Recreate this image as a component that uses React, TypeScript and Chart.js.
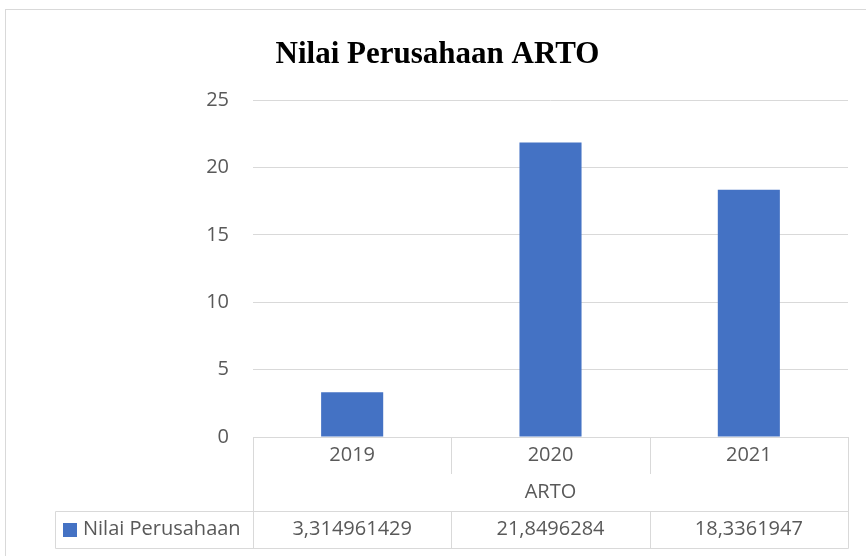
import React, { useEffect, useRef } from "react";
import { Chart, registerables } from "chart.js";

Chart.register(...registerables);

const title = "Nilai Perusahaan ARTO";
const categories = ["2019", "2020", "2021"];
const groupLabel = "ARTO";
const seriesName = "Nilai Perusahaan";
const values = [3.314961429, 21.8496284, 18.3361947];
const valueLabels = ["3,314961429", "21,8496284", "18,3361947"];
const yTicks = { min: 0, max: 25, step: 5 };

const BAR = "#4472C4";
const LINE = "#d9d9d9";
const TEXT = "#595959";
const FONT = "'Open Sans', sans-serif";

const tablePlugin = {
  id: "dataTable",
  afterDraw(chart: any) {
    const ctx = chart.ctx as CanvasRenderingContext2D;
    const x = chart.scales.x;
    const top = chart.chartArea.bottom;
    const row1 = top + 37;
    const row2 = top + 74;
    const row3 = top + 111;
    const left = x.left;
    const right = x.right;
    const n = categories.length;
    const colW = (right - left) / n;
    const legendLeft = 55;

    ctx.save();
    // outer chart border
    ctx.strokeStyle = LINE;
    ctx.lineWidth = 1;
    ctx.strokeRect(5.5, 9.5, 1000, 1000);

    // title
    ctx.fillStyle = "#000";
    ctx.font = "bold 31px 'Liberation Serif', 'Times New Roman', serif";
    ctx.textAlign = "center";
    ctx.textBaseline = "alphabetic";
    ctx.fillText(title, 437.5, 63);

    ctx.strokeStyle = LINE;
    ctx.lineWidth = 1;
    const line = (x1: number, y1: number, x2: number, y2: number) => {
      ctx.beginPath();
      ctx.moveTo(x1, y1);
      ctx.lineTo(x2, y2);
      ctx.stroke();
    };
    const L = Math.round(left) + 0.5;
    const R = Math.round(right) + 0.5;
    // outer verticals
    line(L, top, L, row3 + 0.5);
    line(R, top, R, row3 + 0.5);
    // inner dividers in category row
    for (let i = 1; i < n; i++) {
      const xx = Math.round(left + colW * i) + 0.5;
      line(xx, top, xx, row1);
    }
    // value row
    line(legendLeft + 0.5, row2 + 0.5, R, row2 + 0.5);
    line(legendLeft + 0.5, row3 + 0.5, R, row3 + 0.5);
    line(legendLeft + 0.5, row2 + 0.5, legendLeft + 0.5, row3 + 0.5);
    for (let i = 1; i < n; i++) {
      const xx = Math.round(left + colW * i) + 0.5;
      line(xx, row2, xx, row3);
    }

    // group label
    ctx.fillStyle = TEXT;
    ctx.font = `20px ${FONT}`;
    ctx.textAlign = "center";
    ctx.textBaseline = "middle";
    ctx.fillText(groupLabel, (left + right) / 2, (row1 + row2) / 2);

    // values
    const midY = (row2 + row3) / 2;
    for (let i = 0; i < n; i++) {
      ctx.fillText(valueLabels[i], x.getPixelForValue(i), midY);
    }

    // legend key
    ctx.fillStyle = BAR;
    ctx.fillRect(63, Math.round(midY) - 7, 14, 14);
    ctx.fillStyle = TEXT;
    ctx.textAlign = "left";
    ctx.fillText(seriesName, 83, midY);
    ctx.restore();
  },
};

export default function App() {
  const ref = useRef<HTMLCanvasElement>(null);
  useEffect(() => {
    const chart = new Chart(ref.current!, {
      type: "bar",
      data: {
        labels: categories,
        datasets: [
          {
            label: seriesName,
            data: values,
            backgroundColor: BAR,
            categoryPercentage: 1,
            barPercentage: 0.313,
          },
        ],
      },
      options: {
        animation: false,
        responsive: false,
        devicePixelRatio: 1,
        layout: { padding: { top: 100, left: 0, right: 18, bottom: 0 } },
        plugins: { legend: { display: false }, title: { display: false }, tooltip: { enabled: false } },
        scales: {
          x: {
            grid: { display: false, drawTicks: false },
            border: { display: true, color: LINE, width: 1 },
            ticks: { color: TEXT, font: { family: FONT, size: 20 }, padding: 6 },
            afterFit: (s: any) => {
              s.height = 119;
            },
          },
          y: {
            min: yTicks.min,
            max: yTicks.max,
            grid: { color: LINE, drawTicks: false },
            border: { display: false },
            ticks: { stepSize: yTicks.step, color: TEXT, font: { family: FONT, size: 20 }, padding: 24 },
            afterFit: (s: any) => {
              s.width = 253;
            },
          },
        },
      },
      plugins: [tablePlugin],
    });
    return () => chart.destroy();
  }, []);
  return (
    <div style={{ position: "absolute", left: 0, top: 0, width: 866, height: 556, background: "#fff" }}>
      <canvas ref={ref} width={866} height={556} />
    </div>
  );
}
